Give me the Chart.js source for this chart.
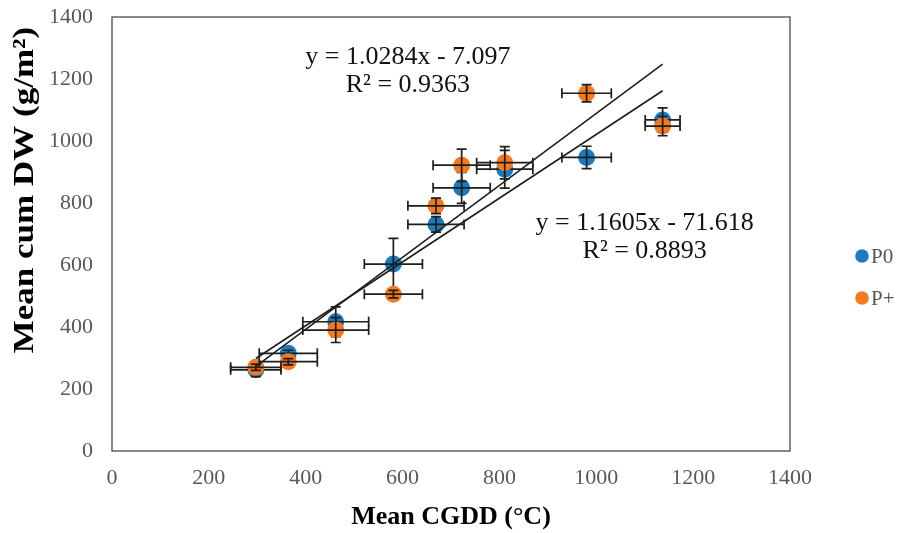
<!DOCTYPE html>
<html><head><meta charset="utf-8">
<script src="https://cdn.jsdelivr.net/npm/chart.js@4.4.1/dist/chart.umd.min.js"></script>
<style>html,body{margin:0;padding:0;background:#fff}#wrap{width:902px;height:533px;position:relative}</style>
</head><body><div id="wrap"><canvas id="c" width="902" height="533"></canvas></div>
<script>
// ---- data ----
const seriesNames = ['P0', 'P+'];
const cgddX = [297, 364, 462, 581, 669, 722, 811, 980, 1137];
const cgddErr = [52, 60, 68, 60, 58, 59, 58, 51, 36];
const p0Y = [262, 315, 417, 603, 731, 849, 909, 947, 1068];
const p0YErr = [22, 10, 48, 83, 25, 50, 61, 36, 39];
const pPlusY = [270, 288, 390, 506, 791, 922, 930, 1154, 1048];
const pPlusYErr = [10, 10, 40, 12, 25, 52, 52, 28, 31];
const trendP0 = { slope: 1.0284, intercept: -7.097, r2: '0.9363' };
const trendPPlus = { slope: 1.1605, intercept: -71.618, r2: '0.8893' };
const xTickValues = [0, 200, 400, 600, 800, 1000, 1200, 1400];
const yTickValues = [0, 200, 400, 600, 800, 1000, 1200, 1400];
const xTitle = 'Mean CGDD (°C)';
const yTitle = 'Mean cum DW (g/m²)';

const BLUE = '#1a7bbf', ORANGE = '#f47a20';
const SERIF = '"Liberation Serif", "Times New Roman", serif';

function pts(xs, ys) { return xs.map((x, i) => ({ x: x, y: ys[i] })); }
function trendPts(t, xs) {
  const a = Math.min(...xs), b = Math.max(...xs);
  return [{ x: a, y: t.slope * a + t.intercept }, { x: b, y: t.slope * b + t.intercept }];
}
function eqText(t) {
  const sign = t.intercept < 0 ? ' - ' : ' + ';
  return 'y = ' + t.slope.toFixed(4) + 'x' + sign + Math.abs(t.intercept);
}

const errorBarPlugin = {
  id: 'errBars',
  afterDatasetDraw(chart, args) {
    const ds = chart.data.datasets[args.index];
    if (!ds.errX) return;
    const ctx = chart.ctx, xs = chart.scales.x, ys = chart.scales.y, cap = 5;
    ctx.save();
    ctx.strokeStyle = '#1e1e1e';
    ctx.lineWidth = 1.7;
    ds.data.forEach((p, i) => {
      const cx = xs.getPixelForValue(p.x), cy = ys.getPixelForValue(p.y);
      const x0 = xs.getPixelForValue(p.x - ds.errX[i]), x1 = xs.getPixelForValue(p.x + ds.errX[i]);
      const y0 = ys.getPixelForValue(p.y - ds.errY[i]), y1 = ys.getPixelForValue(p.y + ds.errY[i]);
      ctx.beginPath();
      ctx.moveTo(x0, cy); ctx.lineTo(x1, cy);
      ctx.moveTo(x0, cy - cap); ctx.lineTo(x0, cy + cap);
      ctx.moveTo(x1, cy - cap); ctx.lineTo(x1, cy + cap);
      ctx.moveTo(cx, y0); ctx.lineTo(cx, y1);
      ctx.moveTo(cx - cap, y0); ctx.lineTo(cx + cap, y0);
      ctx.moveTo(cx - cap, y1); ctx.lineTo(cx + cap, y1);
      ctx.stroke();
    });
    ctx.restore();
  }
};

const framePlugin = {
  id: 'frame',
  beforeDatasetsDraw(chart) {
    const { left, right, top, bottom } = chart.chartArea, ctx = chart.ctx;
    ctx.save();
    ctx.strokeStyle = '#3a3a3a';
    ctx.lineWidth = 1.2;
    ctx.strokeRect(left, top, right - left, bottom - top);
    ctx.restore();
  }
};

const annotations = [
  { text: eqText(trendP0), x: 611, y: 1271 },
  { text: 'R² = ' + trendP0.r2, x: 611, y: 1181 },
  { text: eqText(trendPPlus), x: 1100, y: 735 },
  { text: 'R² = ' + trendPPlus.r2, x: 1100, y: 645 }
];
const annotationPlugin = {
  id: 'eqLabels',
  afterDraw(chart) {
    const ctx = chart.ctx, xs = chart.scales.x, ys = chart.scales.y;
    ctx.save();
    ctx.fillStyle = '#111';
    ctx.font = '26px ' + SERIF;
    ctx.textAlign = 'center';
    ctx.textBaseline = 'middle';
    annotations.forEach(a => ctx.fillText(a.text, xs.getPixelForValue(a.x), ys.getPixelForValue(a.y)));
    ctx.restore();
  }
};

const yTitlePlugin = {
  id: 'yTitle',
  afterDraw(chart) {
    const ctx = chart.ctx;
    ctx.save();
    ctx.translate(33, 190);
    ctx.rotate(-Math.PI / 2);
    ctx.scale(1, 0.85);
    ctx.fillStyle = '#000';
    ctx.font = 'bold 35px ' + SERIF;
    ctx.textAlign = 'center';
    ctx.textBaseline = 'alphabetic';
    ctx.fillText(yTitle, 0, 0);
    ctx.restore();
  }
};

const legendPlugin = {
  id: 'sideLegend',
  afterDraw(chart) {
    const ctx = chart.ctx;
    const items = chart.data.datasets.filter(d => d.inLegend).sort((a, b) => a.legendRank - b.legendRank);
    ctx.save();
    ctx.font = '21px ' + SERIF;
    ctx.textBaseline = 'middle';
    ctx.textAlign = 'left';
    items.forEach((d, i) => {
      const y = 256 + i * 42;
      ctx.fillStyle = d.backgroundColor;
      ctx.beginPath(); ctx.arc(862, y, 6.8, 0, Math.PI * 2); ctx.fill();
      ctx.fillStyle = '#555';
      ctx.fillText(d.label, 871, y + 1);
    });
    ctx.restore();
  }
};

new Chart(document.getElementById('c'), {
  type: 'scatter',
  data: {
    datasets: [
      { type: 'line', label: 'trend P0', data: trendPts(trendP0, cgddX), borderColor: '#1e1e1e', borderWidth: 1.6, pointRadius: 0, fill: false, order: 0 },
      { type: 'line', label: 'trend P+', data: trendPts(trendPPlus, cgddX), borderColor: '#1e1e1e', borderWidth: 1.6, pointRadius: 0, fill: false, order: 0 },
      { label: seriesNames[1], data: pts(cgddX, pPlusY), errX: cgddErr, errY: pPlusYErr, backgroundColor: ORANGE, borderColor: ORANGE, pointRadius: 8.5, pointBorderWidth: 0, order: 1, inLegend: true, legendRank: 1 },
      { label: seriesNames[0], data: pts(cgddX, p0Y), errX: cgddErr, errY: p0YErr, backgroundColor: BLUE, borderColor: BLUE, pointRadius: 8.5, pointBorderWidth: 0, order: 2, inLegend: true, legendRank: 0 }
    ]
  },
  options: {
    responsive: false,
    animation: false,
    layout: { padding: { left: 0, right: 112, top: 17, bottom: 0 } },
    plugins: { legend: { display: false }, tooltip: { enabled: false } },
    scales: {
      x: {
        type: 'linear', min: 0, max: 1400,
        afterBuildTicks: s => { s.ticks = xTickValues.map(v => ({ value: v })); },
        afterFit: s => { s.height = 82; s.paddingLeft = 0; s.paddingRight = 0; },
        grid: { display: false, drawTicks: false },
        border: { display: false },
        ticks: { padding: 14, color: '#595959', font: { family: SERIF, size: 22 }, callback: v => String(v) },
        title: { display: true, text: xTitle, color: '#000', font: { family: SERIF, size: 26, weight: 'bold' }, padding: { top: 0, bottom: 0 } }
      },
      y: {
        type: 'linear', min: 0, max: 1400,
        afterBuildTicks: s => { s.ticks = yTickValues.map(v => ({ value: v })); },
        afterFit: s => { s.width = 112; s.paddingTop = 0; s.paddingBottom = 0; },
        grid: { display: false, drawTicks: false },
        border: { display: false },
        ticks: { padding: 19, color: '#595959', font: { family: SERIF, size: 22 }, callback: v => String(v) },
        title: { display: false }
      }
    }
  },
  plugins: [framePlugin, errorBarPlugin, annotationPlugin, yTitlePlugin, legendPlugin]
});
</script>
</body></html>
